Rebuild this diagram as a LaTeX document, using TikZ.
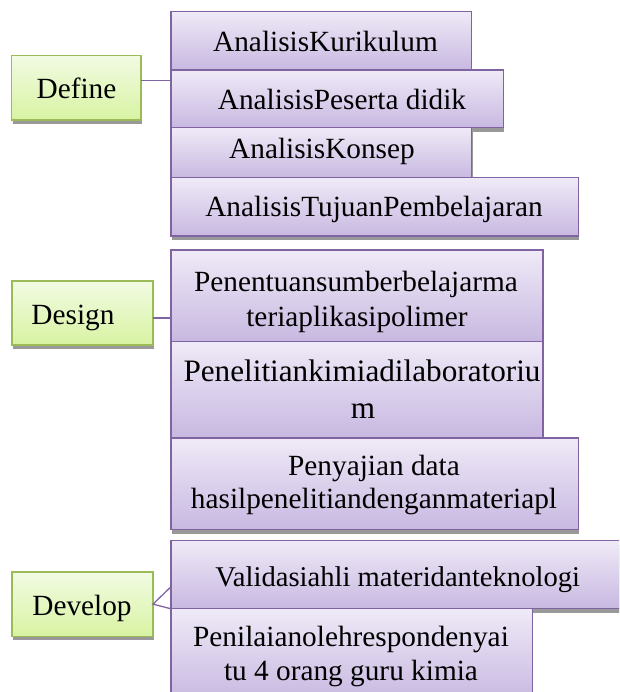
\documentclass[tikz,border=0pt]{standalone}
\usepackage{fontspec}
\setmainfont{Liberation Serif}
\usetikzlibrary{shadows}
\definecolor{pborder}{HTML}{8064A2}
\definecolor{ptop}{HTML}{EFEAF7}
\definecolor{pbot}{HTML}{C8B8E1}
\definecolor{gborder}{HTML}{9BBB59}
\definecolor{gtop}{HTML}{F2FBE3}
\definecolor{gbot}{HTML}{D8F3A2}
\tikzset{
  shd/.style={drop shadow={shadow xshift=1pt, shadow yshift=-4pt, fill=black!40, opacity=1}},
  pbox/.style={shd, draw=pborder, line width=1.3pt, top color=ptop, bottom color=pbot,
    inner sep=0pt, outer sep=0pt, anchor=north west},
  gbox/.style={shd, draw=gborder, line width=1.3pt, top color=gtop, bottom color=gbot,
    inner sep=0pt, outer sep=0pt, anchor=north west},
  txt/.style={inner sep=0pt, outer sep=0pt, anchor=base, font=\fontsize{29.3}{34}\selectfont},
  conn/.style={draw=pborder, line width=1.3pt}
}
\begin{document}
\begin{tikzpicture}[x=1pt, y=-1pt]
\clip (0,0) rectangle (619,692);
% connector endpoints
\coordinate (c1) at (171,80.7);
\coordinate (c2) at (171,318);
\coordinate (c3) at (171,586.7);
% Define group
\node[gbox, minimum width=129.3pt, minimum height=64.3pt] (define) at (11.7,55.7) {};
\draw[conn] (define.east |- c1) -- (c1);
\node[pbox, minimum width=300.3pt, minimum height=58.3pt] (kur) at (171,11.7) {};
\node[pbox, minimum width=332.3pt, minimum height=57.7pt] (pes) at (171,70) {};
\node[pbox, minimum width=300.7pt, minimum height=50pt] (kon) at (171,127.7) {};
\node[pbox, minimum width=407.3pt, minimum height=58.3pt] (tuj) at (171,177.7) {};
\node[txt] (tdefine) at (76.5,98.3) {Define};
\node[txt] (tkur) at (325.5,51.7) {AnalisisKurikulum};
\node[txt] (tpes) at (342,109.3) {AnalisisPeserta didik};
\node[txt] (tkon) at (322,159) {AnalisisKonsep};
\node[txt] (ttuj) at (374,217) {AnalisisTujuanPembelajaran};
% Design group
\node[gbox, minimum width=141pt, minimum height=64pt] (design) at (12,281) {};
\draw[conn] (design.east |- c2) -- (c2);
\node[pbox, minimum width=372pt, minimum height=91.7pt] (pen) at (171,250) {};
\node[pbox, minimum width=372pt, minimum height=95.6pt] (lab) at (171,341.7) {};
\node[pbox, minimum width=407.3pt, minimum height=91.8pt] (saj) at (171,438) {};
\node[txt] (tdesign) at (73,324) {Design};
\node[txt] (tpen1) at (356,291.7) {Penentuansumberbelajarma};
\node[txt] (tpen2) at (357,326) {teriaplikasipolimer};
\node[txt, font=\fontsize{31.2}{36}\selectfont] (tlab1) at (362,381.7) {Penelitiankimiadilaboratoriu};
\node[txt, font=\fontsize{31.2}{36}\selectfont] (tlab2) at (363,418.3) {m};
\node[txt] (tsaj1) at (374,475) {Penyajian data};
\node[txt] (tsaj2) at (374,508.3) {hasilpenelitiandenganmateriapl};
% Develop group
\node[gbox, minimum width=141pt, minimum height=64.3pt] (develop) at (12,572) {};
\node[pbox, minimum width=453pt, minimum height=68.3pt] (val) at (171,540.5) {};
\node[pbox, minimum width=361.3pt, minimum height=92pt] (nil) at (171,608.8) {};
\draw[conn] (c3) -- (develop.east) -- (val.south west);
\node[txt] (tdevelop) at (82,615) {Develop};
\node[txt, font=\fontsize{28.6}{34}\selectfont] (tval) at (397.7,586.7) {Validasiahli materidanteknologi};
\node[txt] (tnil1) at (351,646.7) {Penilaianolehrespondenyai};
\node[txt] (tnil2) at (351,680) {tu 4 orang guru kimia};
\end{tikzpicture}
\end{document}
